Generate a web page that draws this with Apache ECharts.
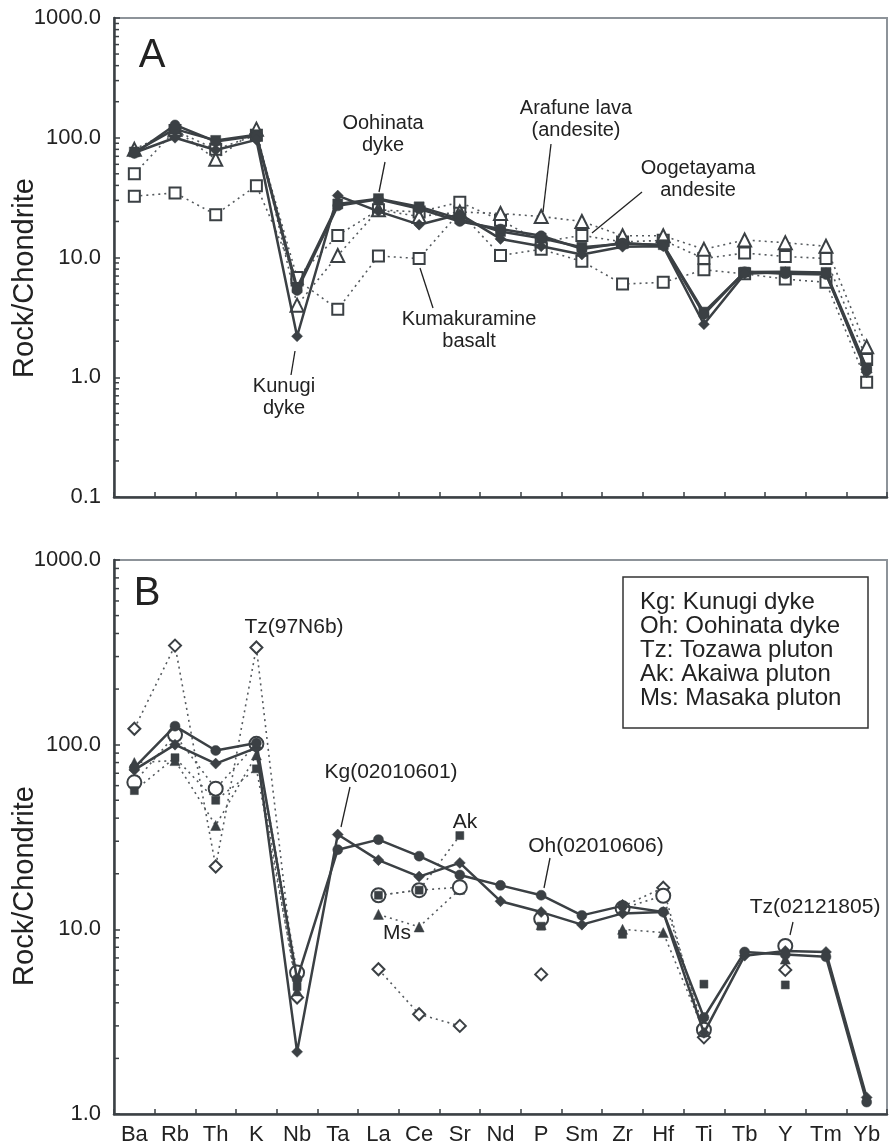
<!DOCTYPE html>
<html>
<head>
<meta charset="utf-8">
<script src="https://cdn.jsdelivr.net/npm/echarts@6/dist/echarts.min.js"></script>
<style>
  html, body { margin: 0; padding: 0; background: #fff; }
  #chart { width: 891px; height: 1147px; }
</style>
</head>
<body>
<div id="chart"></div>
<script>
// element order on the x axis
var elements = ['Ba', 'Rb', 'Th', 'K', 'Nb', 'Ta', 'La', 'Ce', 'Sr', 'Nd', 'P', 'Sm', 'Zr', 'Hf', 'Ti', 'Tb', 'Y', 'Tm', 'Yb'];

// panel A (rock / chondrite)
var kunugiA      = [75, 100, 79, 96, 2.2, 32.9, 24.3, 18.8, 23, 14.3, 12.4, 10.6, 12.3, 12.4, 2.77, 7.3, 7.55, 7.4, 1.1];
var oohinataA    = [74, 128, 93, 104, 5.3, 27, 30.6, 25.5, 20, 17.3, 15.2, 11.8, 13.2, 12.6, 3.35, 7.6, 7.3, 7.2, 1.17];
var oohinataA2   = [76, 118, 95, 106, 5.6, 28, 31, 26.5, 21, 16.5, 14.5, 12.2, 13.0, 12.8, 3.5, 7.55, 7.6, 7.5, 1.2];
var arafune      = [80, 118, 66, 118, 4.0, 10.4, 25, 22, 24, 23.3, 22, 20, 15.2, 15.2, 11.7, 14.0, 13.3, 12.4, 1.8];
var oogetayama   = [50, 115, 80, 105, 6.8, 15.3, 25, 24, 29, 20.5, 13.5, 15.3, 13.5, 13.9, 9.8, 10.9, 10.2, 9.8, 1.41];
var kumakuramine = [32.5, 34.6, 22.8, 39.8, 6.5, 3.7, 10.3, 9.8, 24, 10.4, 11.7, 9.3, 6.0, 6.2, 7.9, 7.3, 6.6, 6.2, 0.91];

// panel B
var kgB      = [73, 100, 79, 96, 2.17, 32.6, 23.7, 19.3, 22.9, 14.2, 12.4, 10.6, 12.2, 12.4, 2.75, 7.2, 7.63, 7.54, 1.23];
var ohB      = [75, 126, 93, 102, 5.37, 27, 30.6, 24.9, 19.7, 17.3, 15.3, 11.9, 13.4, 12.4, 3.33, 7.54, 7.3, 7.1, 1.16];
var tz97N6b  = [122, 344, 21.9, 336, 4.27, null, 6.08, 3.47, 3.0, null, 5.7, null, 13.3, 16.8, 2.6, null, 6.03, null, null];
var tz021218 = [62.5, 113, 57.8, 101, 5.83, null, 15.3, 16.3, 16.9, null, 11.4, null, 13.0, 15.2, 2.86, null, 8.13, null, null];
var akB      = [56.4, 85, 50, 74, 4.9, null, 15.3, 16.3, 32.2, null, 10.4, null, 9.4, null, 5.05, null, 5.0, null, null];
var msB      = [80, 82, 36.5, 88, 4.64, null, 12.05, 10.3, 16.5, null, 10.6, null, 10.0, 9.6, 2.8, null, 6.9, null, null];

// minor tick values on the log axes
var minorA = [0.2, 0.3, 0.4, 0.5, 0.6, 0.7, 0.8, 0.9, 2, 3, 4, 5, 6, 7, 8, 9, 20, 30, 40, 50, 60, 70, 80, 90, 200, 300, 400, 500, 600, 700, 800, 900];
var minorB = [2, 3, 4, 5, 6, 7, 8, 9, 20, 30, 40, 50, 60, 70, 80, 90, 200, 300, 400, 500, 600, 700, 800, 900];

var dark = '#3b4044';
var FONT = 'Liberation Sans, Arial, sans-serif';

function solid(name, data, g, symbol, size) {
  return {
    name: name, type: 'line', xAxisIndex: g, yAxisIndex: g, data: data,
    symbol: symbol, symbolSize: size, showAllSymbol: true, z: 4,
    lineStyle: { color: dark, width: 2.5 },
    itemStyle: { color: dark, borderColor: dark, borderWidth: 0.5 }
  };
}
function dotted(name, data, g, symbol, size, open) {
  return {
    name: name, type: 'line', xAxisIndex: g, yAxisIndex: g, data: data,
    symbol: symbol, symbolSize: size, showAllSymbol: true, z: 3,
    lineStyle: { color: '#555a5e', width: 1.6, type: [2, 4] },
    itemStyle: open ? { color: '#fff', borderColor: dark, borderWidth: 2 } : { color: dark, borderColor: dark, borderWidth: 0.5 }
  };
}
function minorTicks(g, vals) {
  return {
    type: 'custom', xAxisIndex: g, yAxisIndex: g, silent: true, z: 6,
    data: vals.map(function (v) { return [0, v]; }),
    encode: { x: 0, y: 1 },
    renderItem: function (params, api) {
      var cs = params.coordSys;
      var y = api.coord([0, api.value(1)])[1];
      return { type: 'line', shape: { x1: cs.x, y1: y, x2: cs.x + 5, y2: y }, style: { stroke: dark, lineWidth: 1.5 } };
    }
  };
}

function yAxis(g, min, max) {
  return {
    type: 'log', logBase: 10, min: min, max: max, gridIndex: g,
    axisLine: { show: true, lineStyle: { color: dark, width: 2.5 } },
    axisTick: { show: true, inside: true, length: 6, lineStyle: { color: dark, width: 1.5 } },
    splitLine: { show: false },
    axisLabel: { show: true, showMinLabel: true, showMaxLabel: true, margin: 13, color: '#222', fontSize: 22, fontFamily: FONT,
      formatter: function (v) { return Number(v).toFixed(1); } }
  };
}
function xAxis(g, labels) {
  return {
    type: 'category', data: elements, gridIndex: g, boundaryGap: true,
    axisLine: { show: true, lineStyle: { color: dark, width: 2.5 } },
    axisTick: { show: true, inside: true, length: 5, lineStyle: { color: dark, width: 1.5 } },
    splitLine: { show: false },
    axisLabel: { show: labels, interval: 0, margin: 10, color: '#222', fontSize: 22, fontFamily: FONT }
  };
}

function txt(s, x, y, size, opts) {
  opts = opts || {};
  return {
    type: 'text', x: x, y: y, rotation: opts.rotation || 0, z: 20,
    style: { text: s, x: 0, y: 0, fill: '#222', font: size + 'px ' + FONT,
      align: opts.align || 'center', verticalAlign: 'middle', lineHeight: opts.lineHeight || size + 2 }
  };
}
function leader(x1, y1, x2, y2) {
  return { type: 'line', z: 20, shape: { x1: x1, y1: y1, x2: x2, y2: y2 }, style: { stroke: '#222', lineWidth: 1.3 } };
}

var option = {
  backgroundColor: '#fff',
  animation: false,
  grid: [
    { left: 114, top: 18, width: 773, height: 479, show: true, borderColor: '#8d9399', borderWidth: 2, containLabel: false, outerBoundsMode: 'none' },
    { left: 114, top: 560, width: 773, height: 554, show: true, borderColor: '#8d9399', borderWidth: 2, containLabel: false, outerBoundsMode: 'none' }
  ],
  xAxis: [xAxis(0, false), xAxis(1, true)],
  yAxis: [yAxis(0, 0.1, 1000), yAxis(1, 1, 1000)],
  series: [
    dotted('Kumakuramine basalt', kumakuramine, 0, 'rect', 11, true),
    dotted('Oogetayama andesite', oogetayama, 0, 'rect', 11, true),
    dotted('Arafune lava', arafune, 0, 'triangle', 13, true),
    solid('Oohinata dyke 2', oohinataA2, 0, 'rect', 10),
    solid('Oohinata dyke', oohinataA, 0, 'circle', 10),
    solid('Kunugi dyke', kunugiA, 0, 'diamond', 11),
    minorTicks(0, minorA),

    dotted('Tz(97N6b)', tz97N6b, 1, 'diamond', 12, true),
    dotted('Ms', msB, 1, 'triangle', 10, false),
    dotted('Tz(02121805)', tz021218, 1, 'circle', 14, true),
    dotted('Ak', akB, 1, 'rect', 8, false),
    solid('Kg(02010601)', kgB, 1, 'diamond', 11),
    solid('Oh(02010606)', ohB, 1, 'circle', 10),
    minorTicks(1, minorB)
  ],
  graphic: [
    // panel A
    txt('A', 152, 56, 40),
    txt('Oohinata\ndyke', 383, 134, 20, { lineHeight: 22 }),
    leader(385, 162, 379, 192),
    txt('Arafune lava\n(andesite)', 576, 119, 20, { lineHeight: 22 }),
    leader(551, 144, 543, 212),
    txt('Oogetayama\nandesite', 698, 179, 20, { lineHeight: 22 }),
    leader(642, 192, 592, 233),
    txt('Kumakuramine\nbasalt', 469, 330, 20, { lineHeight: 22 }),
    leader(420, 268, 433, 308),
    txt('Kunugi\ndyke', 284, 397, 20, { lineHeight: 22 }),
    leader(295, 351, 291, 375),
    txt('Rock/Chondrite', 25, 278, 29, { rotation: Math.PI / 2 }),

    // panel B
    txt('B', 147, 594, 40),
    txt('Tz(97N6b)', 294, 627, 21),
    txt('Kg(02010601)', 391, 772, 21),
    leader(350, 787, 341, 827),
    txt('Ak', 465, 822, 21),
    txt('Ms', 397, 933, 21),
    txt('Oh(02010606)', 596, 846, 21),
    leader(550, 858, 544, 888),
    txt('Tz(02121805)', 815, 907, 21),
    leader(793, 922, 790, 935),
    txt('Rock/Chondrite', 25, 886, 29, { rotation: Math.PI / 2 }),

    { type: 'rect', z: 20, shape: { x: 623, y: 577, width: 245, height: 151 }, style: { fill: '#fff', stroke: '#333', lineWidth: 1.5 } },
    txt('Kg: Kunugi dyke\nOh: Oohinata dyke\nTz: Tozawa pluton\nAk: Akaiwa pluton\nMs: Masaka pluton', 640, 650, 24, { align: 'left', lineHeight: 24 })
  ]
};

var chart = echarts.init(document.getElementById('chart'), null, { renderer: 'canvas' });
chart.setOption(option);
</script>
</body>
</html>
